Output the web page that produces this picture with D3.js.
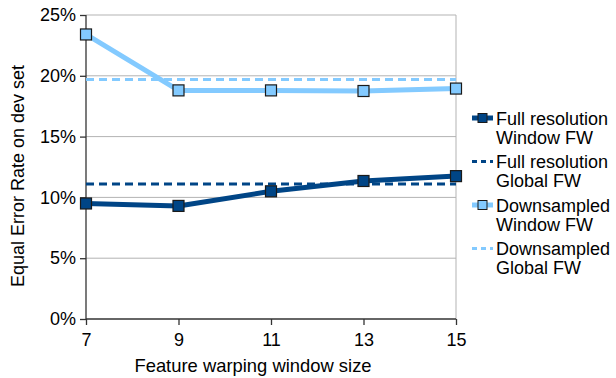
<!DOCTYPE html>
<html>
<head>
<meta charset="utf-8">
<script src="https://cdn.jsdelivr.net/npm/d3@7"></script>
<style>
  body { margin: 0; background: #fff; }
  text { font-family: "Liberation Sans", Arial, sans-serif; fill: #000; }
</style>
</head>
<body>
<script>
var windowSizes = [7, 9, 11, 13, 15];
var yTicks = [0, 5, 10, 15, 20, 25];
var fullWindow = [9.5, 9.3, 10.5, 11.35, 11.75];
var fullGlobal = 11.1;
var downWindow = [23.4, 18.8, 18.8, 18.75, 18.95];
var downGlobal = 19.7;
var legendLabels = [
  ["Full resolution", "Window FW"],
  ["Full resolution", "Global FW"],
  ["Downsampled", "Window FW"],
  ["Downsampled", "Global FW"]
];

var dark = "#004586", light = "#83caff";
var fs = "18px";

var margin = { top: 15, right: 160, bottom: 59, left: 86 },
    width = 616 - margin.left - margin.right,
    height = 378 - margin.top - margin.bottom;

var svg = d3.select("body").append("svg")
    .attr("width", 616)
    .attr("height", 378);

var g = svg.append("g").attr("transform", "translate(" + margin.left + "," + margin.top + ")");

var x = d3.scaleLinear().domain([7, 15]).range([0, width]),
    y = d3.scaleLinear().domain([0, 25]).range([height, 0]);

// grid
g.selectAll(".grid").data(yTicks.slice(1)).enter().append("line")
    .attr("x1", 0).attr("x2", width)
    .attr("y1", function (d) { return y(d); })
    .attr("y2", function (d) { return y(d); })
    .attr("stroke", "#b3b3b3").attr("stroke-width", 1);
g.append("line").attr("x1", width).attr("x2", width).attr("y1", 0).attr("y2", height)
    .attr("stroke", "#b3b3b3");

// axes
var yAxis = g.append("g")
    .call(d3.axisLeft(y).tickValues(yTicks).tickFormat(function (d) { return d + "%"; }).tickSize(6).tickPadding(4));
var xAxis = g.append("g")
    .attr("transform", "translate(0," + height + ")")
    .call(d3.axisBottom(x).tickValues(windowSizes).tickSize(6).tickPadding(8));
[xAxis, yAxis].forEach(function (a) {
  a.selectAll("path, line").attr("stroke", "#333").attr("stroke-width", 1.3);
  a.selectAll("text").style("font-size", fs).style("font-family", "Liberation Sans, Arial, sans-serif").attr("fill", "#000");
  a.select(".domain").attr("d", a === xAxis ? "M0,0H" + width : "M0," + height + "V0");
});

// global lines
function hline(v, color) {
  g.append("line")
    .attr("x1", 0).attr("x2", width)
    .attr("y1", y(v)).attr("y2", y(v))
    .attr("stroke", color).attr("stroke-width", 3)
    .attr("stroke-dasharray", "8,5");
}
hline(downGlobal, light);
hline(fullGlobal, dark);

var line = d3.line()
    .x(function (d, i) { return x(windowSizes[i]); })
    .y(function (d) { return y(d); });

function series(vals, color) {
  g.append("path").datum(vals)
    .attr("fill", "none").attr("stroke", color).attr("stroke-width", 5)
    .attr("stroke-linejoin", "round")
    .attr("d", line);
  g.selectAll(null).data(vals).enter().append("rect")
    .attr("x", function (d, i) { return x(windowSizes[i]) - 5.5; })
    .attr("y", function (d) { return y(d) - 5.5; })
    .attr("width", 11).attr("height", 11)
    .attr("fill", color).attr("stroke", "#1a1a1a").attr("stroke-width", 1.2);
}
series(downWindow, light);
series(fullWindow, dark);

// axis titles
svg.append("text")
    .attr("transform", "translate(24,176) rotate(-90)")
    .attr("text-anchor", "middle")
    .style("font-size", fs)
    .text("Equal Error Rate on dev set");
svg.append("text")
    .attr("x", 253).attr("y", 372)
    .attr("text-anchor", "middle")
    .style("font-size", "18.4px")
    .text("Feature warping window size");

// legend
var legendColors = [dark, dark, light, light];
var legendMarker = [true, false, true, false];
legendLabels.forEach(function (lab, i) {
  var ly = 118 + i * 43.5;
  var lg = svg.append("g");
  if (legendMarker[i]) {
    lg.append("line").attr("x1", 472).attr("x2", 493).attr("y1", ly).attr("y2", ly)
      .attr("stroke", legendColors[i]).attr("stroke-width", 5);
    lg.append("rect").attr("x", 478).attr("y", ly - 4.5).attr("width", 9).attr("height", 9)
      .attr("fill", legendColors[i]).attr("stroke", "#1a1a1a").attr("stroke-width", 1);
  } else {
    lg.append("line").attr("x1", 472).attr("x2", 493).attr("y1", ly).attr("y2", ly)
      .attr("stroke", legendColors[i]).attr("stroke-width", 3).attr("stroke-dasharray", "5,4");
  }
  lab.forEach(function (t, j) {
    lg.append("text").attr("x", 496).attr("y", ly + 6.5 + j * 19)
      .style("font-size", fs).text(t);
  });
});
</script>
</body>
</html>
